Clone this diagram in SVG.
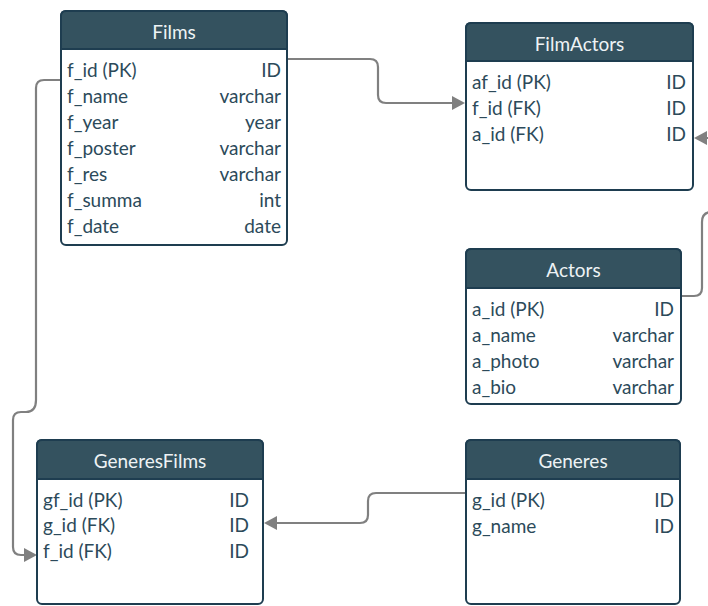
<svg xmlns="http://www.w3.org/2000/svg" width="708" height="606" viewBox="0 0 708 606">
<style>
.box{fill:#ffffff;stroke:#1e3d50;stroke-width:2}
.hdr{fill:#34525f;stroke:#1e3d50;stroke-width:2}
.title{font-family:Lato,"Open Sans",sans-serif;font-size:19px;fill:#eef3f5;text-anchor:middle;dominant-baseline:central}
.f{font-family:Lato,"Open Sans",sans-serif;font-size:19px;fill:#2c4a5a;dominant-baseline:central}
.t{font-family:Lato,"Open Sans",sans-serif;font-size:19px;fill:#2c4a5a;text-anchor:end;dominant-baseline:central}
.conn{fill:none;stroke:#808080;stroke-width:2.2}
.ah{fill:#808080}
</style>
<g id="connectors">
<path class="conn" d="M287,59 H370 Q378,59 378,67 V95 Q378,103 386,103 H454"/>
<path class="ah" d="M452,96 L465,103 L452,110 z"/>
<path class="conn" d="M681,296 H694 Q702,296 702,288 V222 Q702,212 712,212 V138 H706"/>
<path class="ah" d="M707,131 L694,138 L707,145 z"/>
<path class="conn" d="M465,493 H376 Q368,493 368,501 V515 Q368,523 360,523 H275"/>
<path class="ah" d="M277,516 L264,523 L277,530 z"/>
<path class="conn" d="M60,80 H44 Q36,80 36,88 V400 Q36,412 26,412 H21 Q13,412 13,420 V547 Q13,555 21,555 H25"/>
<path class="ah" d="M24,548 L37,555 L24,562 z"/>
</g>
<g id="Films">
<rect class="box" x="61" y="11" width="226" height="234" rx="5"/>
<path class="hdr" d="M61,49 V16 Q61,11 66,11 H282 Q287,11 287,16 V49 z"/>
<text class="title" x="174" y="31">Films</text>
<text class="f" x="67" y="69">f_id (PK)</text><text class="t" x="281" y="69">ID</text>
<text class="f" x="67" y="95">f_name</text><text class="t" x="281" y="95">varchar</text>
<text class="f" x="67" y="121">f_year</text><text class="t" x="281" y="121">year</text>
<text class="f" x="67" y="147">f_poster</text><text class="t" x="281" y="147">varchar</text>
<text class="f" x="67" y="173">f_res</text><text class="t" x="281" y="173">varchar</text>
<text class="f" x="67" y="199">f_summa</text><text class="t" x="281" y="199">int</text>
<text class="f" x="67" y="225">f_date</text><text class="t" x="281" y="225">date</text>
</g>
<g id="FilmActors">
<rect class="box" x="466" y="23" width="227" height="167" rx="5"/>
<path class="hdr" d="M466,61 V28 Q466,23 471,23 H688 Q693,23 693,28 V61 z"/>
<text class="title" x="579.5" y="43">FilmActors</text>
<text class="f" x="472" y="81">af_id (PK)</text><text class="t" x="686" y="81">ID</text>
<text class="f" x="472" y="107">f_id (FK)</text><text class="t" x="686" y="107">ID</text>
<text class="f" x="472" y="133">a_id (FK)</text><text class="t" x="686" y="133">ID</text>
</g>
<g id="Actors">
<rect class="box" x="466" y="249" width="215" height="155" rx="5"/>
<path class="hdr" d="M466,288 V254 Q466,249 471,249 H676 Q681,249 681,254 V288 z"/>
<text class="title" x="573.5" y="269">Actors</text>
<text class="f" x="472" y="308">a_id (PK)</text><text class="t" x="674" y="308">ID</text>
<text class="f" x="472" y="334">a_name</text><text class="t" x="674" y="334">varchar</text>
<text class="f" x="472" y="360">a_photo</text><text class="t" x="674" y="360">varchar</text>
<text class="f" x="472" y="386">a_bio</text><text class="t" x="674" y="386">varchar</text>
</g>
<g id="GeneresFilms">
<rect class="box" x="37" y="440" width="226" height="164" rx="5"/>
<path class="hdr" d="M37,479 V445 Q37,440 42,440 H258 Q263,440 263,445 V479 z"/>
<text class="title" x="150" y="460">GeneresFilms</text>
<text class="f" x="43" y="499">gf_id (PK)</text><text class="t" x="249" y="499">ID</text>
<text class="f" x="43" y="524">g_id (FK)</text><text class="t" x="249" y="524">ID</text>
<text class="f" x="43" y="550">f_id (FK)</text><text class="t" x="249" y="550">ID</text>
</g>
<g id="Generes">
<rect class="box" x="466" y="440" width="214" height="164" rx="5"/>
<path class="hdr" d="M466,479 V445 Q466,440 471,440 H675 Q680,440 680,445 V479 z"/>
<text class="title" x="573" y="460">Generes</text>
<text class="f" x="472" y="499">g_id (PK)</text><text class="t" x="674" y="499">ID</text>
<text class="f" x="472" y="525">g_name</text><text class="t" x="674" y="525">ID</text>
</g>
</svg>
